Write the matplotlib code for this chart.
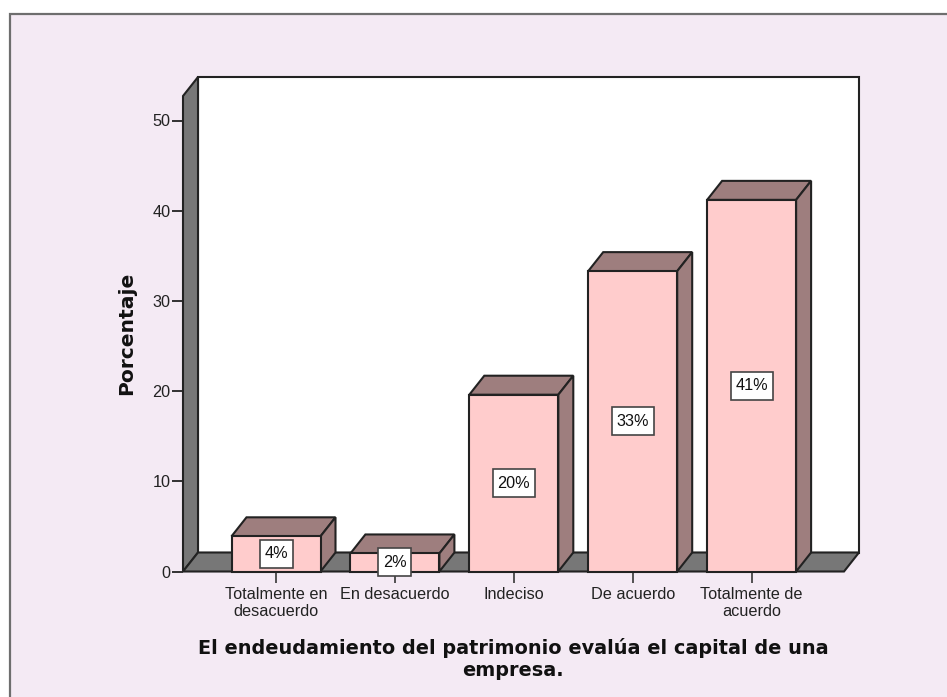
import matplotlib
matplotlib.use("Agg")
import matplotlib.pyplot as plt
from matplotlib.patches import Polygon, Rectangle

categories = ["Totalmente en\ndesacuerdo", "En desacuerdo", "Indeciso", "De acuerdo", "Totalmente de\nacuerdo"]
values = [3.9, 2.0, 19.6, 33.3, 41.2]
labels = ["4%", "2%", "20%", "33%", "41%"]
yticks = [0, 10, 20, 30, 40, 50]

W, H = 947, 697
FRONT = "#FFCCCC"
SIDE = "#9E7E7E"
WALL = "#777777"
EDGE = "#222222"
BG = "#F4EAF4"

plt.rcParams["font.family"] = ["Liberation Sans", "DejaVu Sans"]

fig = plt.figure(figsize=(W / 100, H / 100), dpi=100, facecolor="white")
# lilac panel with the grey frame on top and left
fig.add_artist(Rectangle((9.5 / W, -0.01), 1.01, 1.01 - 13.5 / H, transform=fig.transFigure,
                         facecolor=BG, edgecolor="#6E6E6E", linewidth=1.6, zorder=-1))

# axes covers the front floor edge up to the back wall top
left, right, top, bottom = 183, 859, 77, 571.5
ax = fig.add_axes([left / W, 1 - bottom / H, (right - left) / W, (bottom - top) / H])
ax.patch.set_visible(False)

step = 118.9
dx = 15 / step
dy = 19 / 9.02
half = 44.5 / step
xmin = (183 - 276) / step
xmax = xmin + (right - left) / step
ymax = (bottom - top) / 9.02
ax.set_xlim(xmin, xmax)
ax.set_ylim(0, ymax)


def poly(pts, fc, z, lw=1.5):
    ax.add_patch(Polygon(pts, closed=True, facecolor=fc, edgecolor=EDGE, linewidth=lw,
                         joinstyle="miter", clip_on=False, zorder=z))


# back wall, left wall and floor
poly([(xmin + dx, dy), (xmax, dy), (xmax, ymax), (xmin + dx, ymax)], "white", 1)
poly([(xmin, 0), (xmin + dx, dy), (xmin + dx, ymax), (xmin, ymax - dy)], WALL, 1)
poly([(xmin, 0), (xmax - dx, 0), (xmax, dy), (xmin + dx, dy)], WALL, 1)

for i, v in enumerate(values):
    z = 2 + i * 0.01
    x0, x1 = i - half, i + half
    poly([(x0, v), (x1, v), (x1 + dx, v + dy), (x0 + dx, v + dy)], SIDE, z)
    poly([(x1, 0), (x1 + dx, dy), (x1 + dx, v + dy), (x1, v)], SIDE, z)
    poly([(x0, 0), (x1, 0), (x1, v), (x0, v)], FRONT, z)
    # value label box: wider for two digits
    bw = (42 if v >= 10 else 33) / step
    bh = 28 / 9.02
    ax.add_patch(Rectangle((i - bw / 2, v / 2 - bh / 2), bw, bh, facecolor="white", edgecolor="#444444",
                           linewidth=1.2, clip_on=False, zorder=5))
    ax.text(i, v / 2, labels[i], ha="center", va="center", fontsize=11.7, color="#111111", zorder=6)

for s in ax.spines.values():
    s.set_visible(False)

ax.set_yticks(yticks)
ax.set_xticks(range(len(categories)))
ax.set_xticklabels(categories, linespacing=1.2)
ax.tick_params(axis="y", length=8, width=1.3, color=EDGE, labelsize=11.7, labelcolor="#222222", pad=1)
ax.tick_params(axis="x", length=8, width=1.3, color="#444444", labelsize=11.7, labelcolor="#222222", pad=3)

fig.text(127 / W, 1 - 333 / H, "Porcentaje", rotation=90, ha="center", va="center",
         fontsize=14.6, fontweight="bold", color="#111111", family="DejaVu Sans")
fig.text(513 / W, 1 - 659 / H, "El endeudamiento del patrimonio evalúa el capital de una\nempresa.",
         ha="center", va="center", fontsize=13.9, fontweight="bold", color="#111111", linespacing=1.15,
         family="DejaVu Sans")

fig.savefig("out.png", dpi=100)
